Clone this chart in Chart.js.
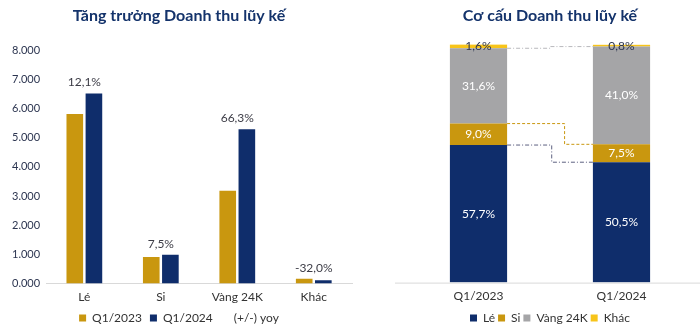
<!DOCTYPE html>
<html>
<head>
<meta charset="utf-8">
<script src="https://cdn.jsdelivr.net/npm/chart.js@4"></script>
<style>
  body { margin: 0; background: #fff; }
  .box { position: absolute; top: 0; height: 332px; }
  #left { left: 0; width: 358px; }
  #right { left: 380px; width: 320px; }
</style>
</head>
<body>
<div class="box" id="left"><canvas id="growth"></canvas></div>
<div class="box" id="right"><canvas id="mix"></canvas></div>
<script>
const categories = ['Lé', 'Si', 'Vàng 24K', 'Khác'];
const revenue2023 = [5810, 915, 3180, 170];
const revenue2024 = [6515, 985, 5290, 116];
const yoy = [12.1, 7.5, 66.3, -32.0];

const periods = ['Q1/2023', 'Q1/2024'];
const shareLe = [57.7, 50.5];
const shareSi = [9.0, 7.5];
const shareVang = [31.6, 41.0];
const shareKhac = [1.6, 0.8];

const GOLD = '#c9970f';
const NAVY = '#0f2d6b';
const GREY = '#a5a5a7';
const YELLOW = '#f7c41a';
const FONT = 'Lato';

const pct = v => v.toFixed(1).replace('.', ',') + '%';

// pull the legend a little lower than chart.js would put it
const lowerLegend = {
    id: 'lowerLegend',
    beforeInit(chart) {
        const fit = chart.legend.fit;
        chart.legend.fit = function () {
            fit.call(this);
            this.height -= 2;
        };
    }
};

// yoy labels above each category
const yoyLabels = {
    id: 'yoyLabels',
    afterDatasetsDraw(chart) {
        const c = chart.ctx;
        const a = chart.getDatasetMeta(0).data;
        const b = chart.getDatasetMeta(1).data;
        c.save();
        c.font = '12px ' + FONT;
        c.fillStyle = '#3c3c46';
        c.textAlign = 'center';
        c.textBaseline = 'middle';
        yoy.forEach((v, i) => {
            const x = chart.scales.x.getPixelForValue(i);
            const top = Math.min(a[i].y, b[i].y);
            c.fillText(pct(v), x, top - 11);
        });
        c.restore();
    }
};

new Chart(document.getElementById('growth'), {
    type: 'bar',
    data: {
        labels: categories,
        datasets: [
            { label: 'Q1/2023', data: revenue2023, backgroundColor: GOLD },
            { label: 'Q1/2024', data: revenue2024, backgroundColor: NAVY },
            { type: 'line', label: '(+/-) yoy', data: yoy, yAxisID: 'yPct',
              borderColor: 'rgba(0,0,0,0)', backgroundColor: 'rgba(0,0,0,0)',
              pointRadius: 0, showLine: false }
        ]
    },
    options: {
        responsive: true,
        maintainAspectRatio: false,
        animation: false,
        categoryPercentage: 0.5,
        barPercentage: 0.87,
        layout: { padding: { left: 6, right: 6, bottom: 0 } },
        plugins: {
            title: {
                display: true,
                text: 'Tăng trưởng Doanh thu lũy kế',
                color: '#14336b',
                font: { family: FONT, size: 16, weight: 'bold' },
                padding: { top: 6, bottom: 25 }
            },
            legend: {
                position: 'bottom',
                labels: {
                    boxWidth: 7, boxHeight: 7, padding: 2, color: '#333', font: { family: FONT, size: 12 },
                    generateLabels(chart) {
                        const items = Chart.defaults.plugins.legend.labels.generateLabels(chart);
                        items.forEach((it, i) => { if (i < items.length - 1) it.text += '\u2002'; });
                        return items;
                    }
                }
            },
            tooltip: { enabled: false }
        },
        scales: {
            x: {
                grid: { display: false, drawTicks: false },
                border: { color: '#d9d9d9' },
                ticks: { color: '#333', font: { family: FONT, size: 12 }, padding: 6 }
            },
            y: {
                min: 0, max: 8000,
                ticks: { stepSize: 1000, color: '#2c3550', font: { family: FONT, size: 11 }, padding: 6,
                         callback: v => (v / 1000).toFixed(3) },
                grid: { display: false, drawTicks: false },
                border: { display: false }
            },
            yPct: { display: false }
        }
    },
    plugins: [lowerLegend, yoyLabels]
});

// stepped connector lines between the stacked bars, plus the long base line
const connectors = {
    id: 'connectors',
    afterDatasetsDraw(chart) {
        const c = chart.ctx;
        const styles = [
            { ds: 0, color: '#5d6180', dash: [4, 2, 1, 2], step: 0.52 },
            { ds: 1, color: GOLD, dash: [3, 2], step: 0.67 },
            { ds: 2, color: '#b8b8bc', dash: [4, 2, 1, 2], step: 0.5 }
        ];
        c.save();
        c.lineWidth = 1;
        styles.forEach(s => {
            const d = chart.getDatasetMeta(s.ds).data;
            const x1 = d[0].x + d[0].width / 2;
            const x2 = d[1].x - d[1].width / 2;
            const xs = x1 + (x2 - x1) * s.step;
            c.strokeStyle = s.color;
            c.setLineDash(s.dash);
            c.beginPath();
            c.moveTo(x1, d[0].y);
            c.lineTo(xs, d[0].y);
            c.lineTo(xs, d[1].y);
            c.lineTo(x2, d[1].y);
            c.stroke();
        });
        c.setLineDash([]);
        c.strokeStyle = '#d9d9d9';
        c.beginPath();
        c.moveTo(15, chart.chartArea.bottom + 0.5);
        c.lineTo(chart.width, chart.chartArea.bottom + 0.5);
        c.stroke();
        c.restore();
    }
};

// percent labels inside the segments
const segLabels = {
    id: 'segLabels',
    afterDatasetsDraw(chart) {
        const c = chart.ctx;
        c.save();
        c.font = '12px ' + FONT;
        c.textAlign = 'center';
        c.textBaseline = 'middle';
        chart.data.datasets.forEach((ds, i) => {
            chart.getDatasetMeta(i).data.forEach((bar, j) => {
                c.fillStyle = i === 3 ? '#2c3550' : '#fff';
                c.fillText(pct(ds.data[j]), bar.x, (bar.y + bar.base) / 2);
            });
        });
        c.restore();
    }
};

new Chart(document.getElementById('mix'), {
    type: 'bar',
    data: {
        labels: periods,
        datasets: [
            { label: 'Lé', data: shareLe, backgroundColor: NAVY },
            { label: 'Si', data: shareSi, backgroundColor: GOLD },
            { label: 'Vàng 24K', data: shareVang, backgroundColor: GREY },
            { label: 'Khác', data: shareKhac, backgroundColor: YELLOW }
        ]
    },
    options: {
        responsive: true,
        maintainAspectRatio: false,
        animation: false,
        categoryPercentage: 1,
        barPercentage: 0.4,
        layout: { padding: { left: 27, right: 7, bottom: 0 } },
        plugins: {
            title: {
                display: true,
                text: 'Cơ cấu Doanh thu lũy kế',
                color: '#14336b',
                font: { family: FONT, size: 16, weight: 'bold' },
                padding: { top: 6, bottom: 19 }
            },
            legend: {
                position: 'bottom',
                labels: { boxWidth: 7, boxHeight: 7, padding: 3, color: '#333', font: { family: FONT, size: 12 } }
            },
            tooltip: { enabled: false }
        },
        scales: {
            x: {
                stacked: true,
                grid: { display: false, drawTicks: false },
                border: { display: false },
                ticks: { color: '#333', font: { family: FONT, size: 12 }, padding: 6 }
            },
            y: { stacked: true, min: 0, max: 100, display: false }
        }
    },
    plugins: [lowerLegend, connectors, segLabels]
});
</script>
</body>
</html>
